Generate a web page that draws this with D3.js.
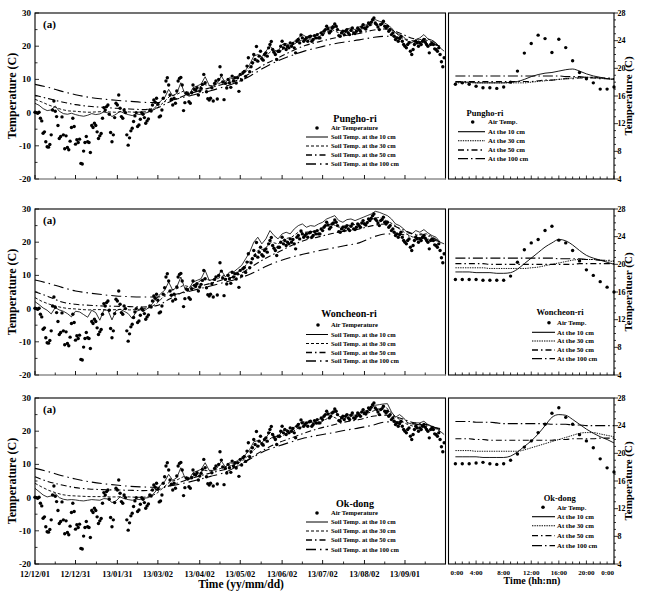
<!DOCTYPE html>
<html><head><meta charset="utf-8">
<script src="https://cdn.jsdelivr.net/npm/d3@7"></script>
<style>body{margin:0;background:#fff}text{font-family:"Liberation Serif","Times New Roman",serif;font-weight:bold;fill:#000}</style>
</head><body><svg id="c" width="645" height="600"></svg>
<script>
// ---------------- DATA ----------------
const siteNames = ["Pungho-ri", "Woncheon-ri", "Ok-dong"];
const startDate = "12/12/01", endDate = "13/10/01";
const dateTickLabels = ["12/12/01","12/12/31","13/01/31","13/03/02","13/04/02","13/05/02","13/06/02","13/07/02","13/08/02","13/09/01"];
const hourTickLabels = ["0:00","4:00","8:00","12:00","16:00","20:00","0:00"];
const hourTickValues = [0,4,8,12,16,20,24];
const leftYTicks = [-20,-10,0,10,20,30];
const rightYTicks = [4,8,12,16,20,24,28];
const rightYTitles = ["Temperature (C)", "Temperatuer (C)", "Temperature (C)"];
const legendLeftLabels = ["Air Temperature","Soil Temp. at the 10 cm","Soil Temp. at the 30 cm","Soil Temp. at the 50 cm","Soil Temp. at the 100 cm"];
const legendRightLabels = ["Air Temp.","At the 10 cm","At the 30 cm","At the 50 cm","At the 100 cm"];

// daily air temperature (days from 12/12/01)
const airTemp = [
 0.1,0,-0.2,0.1,-1.7,-2.5,-6.2,-5.8,-8.8,-10.3,
 -10.4,-9.6,-6.7,0.8,3.5,0.4,-1.2,-3.9,-7.8,-7.2,
 -1.3,-6.7,-10.9,-7.0,-10.5,-11.2,-8.6,-4.5,-1.7,-4.2,
 -9.5,-8.2,-9.0,-8.0,-15.3,-15.5,-11.6,-9.0,-7.2,-8.8,
 -9.0,-12.0,-3.9,-4.5,-3.2,-3.9,-5.8,-7.8,-7.0,-6.3,
 -1.7,1.5,0.8,1.8,2.3,-0.5,-6.0,-8.8,-6.7,-1.5,
 2.8,2.3,5.3,1.3,-1.2,-1.7,0.8,0.0,-6.7,-9.8,
 -7.6,-5.5,-4.7,-2.7,-1.0,0.0,-4.2,-3.7,-2.0,0.0,
 -0.5,-1.5,-3.2,-2.5,-1.9,0.8,0.5,2.3,3.8,3.1,
 4.3,2.5,-1.3,-1.0,0.8,4.3,6.3,9.5,10.5,8.3,
 5.3,4.0,2.3,4.3,2.8,6.5,9.5,10.3,10.6,8.3,
 0.6,3.0,5.9,5.6,3.3,2.8,6.0,8.3,7.0,6.8,
 7.5,5.3,6.5,7.3,8.5,11.5,9.0,6.3,4.2,3.8,
 4.3,7.5,3.5,8.8,9.5,4.1,10.0,13.8,11.3,9.2,
 3.9,8.8,7.4,10.0,9.0,7.6,11.0,9.5,10.5,8.9,
 10.5,6.4,11.5,9.8,12.0,12.4,10.9,14.0,16.5,12.3,
 13.8,15.0,17.5,16.0,19.9,15.5,17.0,18.5,16.2,15.8,
 17.5,18.0,17.0,19.5,20.5,21.4,19.0,18.2,17.5,16.0,
 18.5,18.5,20.0,21.5,19.5,20.5,19.0,20.0,19.5,21.0,
 20.0,20.8,19.5,18.0,21.5,22.0,21.0,23.4,22.5,21.5,
 22.0,22.5,21.5,22.8,23.0,21.5,22.0,23.2,22.5,23.5,
 22.5,22.5,24.0,23.5,24.5,25.0,26.0,25.2,24.0,24.5,
 25.5,25.8,26.7,26.0,25.0,23.2,23.0,24.0,24.5,23.5,
 24.5,25.0,24.0,23.5,24.8,25.5,24.0,23.8,24.5,25.5,
 25.0,24.5,25.8,26.5,25.5,25.2,25.9,27.0,26.5,27.2,
 28.0,28.5,27.0,26.5,25.8,25.0,26.5,26.8,27.5,26.0,
 25.5,26.0,24.5,25.0,23.5,24.0,23.0,22.0,22.5,21.5,
 22.3,23.0,21.5,20.5,20.0,19.5,20.5,21.0,18.5,17.5,
 19.0,20.5,21.5,21.0,20.0,21.0,20.5,21.5,22.0,21.2,
 20.5,20.0,18.0,20.5,21.0,20.5,19.2,19.0,18.5,19.5,
 17.5,15.3,13.8,16.5
];

// soil temperature sampling intervals (days)
const step10 = 3, step30 = 5, step50 = 10, step100 = 10;

// Pungho-ri
const pungho10 = [
 2.8,2.2,1.2,0.6,0.8,2.0,0.4,-0.3,-0.5,-0.2,
 -0.6,-0.9,-1.1,-0.8,-0.3,-0.6,-0.4,0.2,-0.1,-1.2,
 -0.5,0.4,-0.2,-0.6,-0.9,-0.4,-0.6,-0.2,0.1,0.8,
 2.0,3.5,4.5,7.0,5.0,5.8,9.0,5.5,5.2,7.5,
 8.0,8.6,10.8,8.2,8.0,8.8,11.0,9.0,10.5,10.2,
 11.0,11.5,12.8,14.5,17.0,17.5,16.8,18.5,20.0,18.8,
 18.5,20.5,20.8,20.2,21.5,22.5,23.5,22.8,23.2,23.0,
 23.8,24.5,25.5,25.8,26.8,24.8,24.5,25.2,25.5,25.0,
 25.8,26.2,26.5,27.2,28.0,27.5,27.2,26.5,25.5,24.0,
 23.5,22.8,21.5,21.0,22.0,22.5,23.5,22.2,21.8,21.0,
 19.5,18.5
];
const pungho30 = [
 4.0,3.2,2.3,1.6,0.9,0.5,0.4,0.2,0.1,0.2,
 0.3,0.2,0.1,0.3,0.2,0.1,0.2,0.4,1.2,3.0,
 5.0,5.5,6.5,6.0,7.2,8.5,8.0,8.5,9.5,9.8,
 10.5,11.8,14.0,16.0,16.8,18.5,18.0,19.5,20.0,21.5,
 22.0,22.2,22.8,24.0,25.0,24.0,24.3,24.5,25.0,25.5,
 26.5,26.8,26.0,24.8,23.0,21.8,21.0,22.0,22.3,21.5,
 19.5
];
const pungho50 = [
 5.2,4.2,3.2,2.4,1.9,1.6,1.3,1.1,0.9,1.4,
 3.3,5.0,6.4,7.5,8.6,9.8,12.0,14.5,16.5,18.5,
 20.2,21.3,22.3,23.2,23.8,24.8,25.2,24.0,22.3,21.8,
 19.8
];
const pungho100 = [
 8.5,7.6,6.4,5.4,4.6,4.1,3.7,3.4,3.1,3.0,
 3.6,4.6,5.6,6.6,7.8,9.2,11.2,13.6,15.6,17.2,
 18.6,19.6,20.6,21.3,21.9,22.6,23.0,22.6,21.6,21.0,
 20.0
];

// Woncheon-ri
const woncheon10 = [
 2.1,1.2,0.2,-0.5,-1.6,0.3,-0.4,-0.8,-1.5,-2.5,
 -0.8,-1.0,-1.8,-2.6,-0.5,-1.2,-3.5,-0.4,-0.5,-3.4,
 -0.6,-0.2,-0.8,-1.5,-3.0,-0.8,-0.4,-0.6,0.2,1.5,
 3.0,4.5,5.5,8.0,5.5,6.5,9.5,6.0,6.0,8.0,
 8.5,9.0,11.5,8.5,8.8,9.5,11.5,9.5,11.0,11.0,
 12.0,13.0,15.0,17.0,20.0,21.5,19.5,21.0,23.5,22.0,
 21.0,22.5,23.0,22.5,24.0,25.0,25.5,24.5,25.0,24.8,
 25.5,26.0,27.0,27.5,28.0,26.5,26.0,26.8,27.0,26.5,
 27.0,27.5,28.0,28.5,29.3,29.0,28.5,28.0,27.0,25.5,
 25.0,24.0,22.8,22.5,23.5,23.0,23.8,22.8,22.0,21.5,
 20.0,19.5
];
const woncheon30 = [
 3.3,2.2,1.4,0.8,0.3,0.0,-0.1,-0.3,-0.4,-0.3,
 -0.3,-0.4,-0.3,-0.2,-0.4,-0.3,-0.1,0.3,1.5,3.5,
 5.5,6.0,7.0,6.5,7.8,9.0,8.5,9.0,10.0,10.5,
 11.0,12.5,15.0,17.5,18.0,20.0,19.5,21.0,21.5,23.0,
 23.0,23.2,23.5,25.0,25.5,24.5,25.0,25.2,25.5,26.0,
 27.0,27.5,26.5,25.5,24.0,22.5,21.5,22.5,22.5,21.5,
 19.8
];
const woncheon50 = [
 5.1,3.6,2.0,1.3,1.0,0.8,0.7,0.6,0.5,0.9,
 3.0,5.0,6.5,7.6,8.8,10.0,12.5,15.0,17.0,19.0,
 20.6,21.6,22.6,23.4,24.0,25.0,25.5,24.2,22.5,22.0,
 20.2
];
const woncheon100 = [
 8.6,7.6,6.4,5.3,4.7,4.2,3.8,3.6,3.5,3.5,
 4.0,4.8,5.8,6.8,7.9,9.0,10.5,12.5,14.2,15.5,
 16.5,17.4,18.2,19.0,19.8,21.5,22.5,22.4,21.6,21.0,
 20.2
];

// Ok-dong
const okdong10 = [
 2.8,1.8,0.8,0.2,0.5,1.2,0.0,-0.5,-0.7,-0.6,
 -0.7,-0.9,-1.0,-0.8,-0.6,-0.7,-0.8,-0.3,-0.4,-1.5,
 -1.0,0.2,-0.3,-0.6,-0.8,-0.5,-0.6,-0.2,0.0,0.8,
 2.2,3.8,4.8,7.0,5.2,6.0,9.0,6.0,5.5,7.5,
 8.0,8.5,10.5,8.2,8.2,9.0,11.0,9.2,10.5,10.3,
 11.2,11.8,13.0,14.5,16.8,17.2,16.5,18.0,19.8,18.5,
 18.3,20.0,20.5,20.0,21.2,22.0,23.0,22.5,22.8,22.5,
 23.5,24.0,25.0,25.5,26.2,24.5,24.2,24.8,25.0,24.8,
 25.5,26.0,26.2,27.0,27.8,28.0,28.2,28.3,25.8,24.2,
 25.0,24.0,22.5,22.2,22.5,22.5,23.0,22.0,21.5,21.0,
 20.0,19.0
];
const okdong30 = [
 4.3,3.2,2.2,1.5,0.9,0.6,0.5,0.4,0.3,0.3,
 0.3,0.2,0.2,0.3,0.2,0.1,0.1,0.3,1.2,3.0,
 4.8,5.3,6.3,6.0,7.0,8.2,8.0,8.4,9.2,9.6,
 10.3,11.5,13.5,15.5,16.3,18.0,17.8,19.0,19.6,21.0,
 21.5,21.8,22.3,23.5,24.5,23.5,23.8,24.0,24.6,25.2,
 26.0,26.8,27.2,25.0,23.5,22.2,21.5,22.0,22.0,21.2,
 19.8
];
const okdong50 = [
 6.3,4.8,3.8,3.0,2.6,2.4,2.3,2.2,2.1,2.4,
 3.6,5.0,6.3,7.4,8.4,9.5,12.0,14.5,16.5,18.0,
 19.5,20.8,21.8,22.8,23.5,24.5,24.8,24.0,22.6,22.0,
 20.5
];
const okdong100 = [
 8.8,7.8,6.6,5.6,4.8,4.2,3.8,3.4,3.2,3.1,
 3.5,4.3,5.3,6.4,7.5,9.5,11.8,14.0,15.5,16.8,
 18.0,18.8,19.5,20.3,21.0,21.8,22.8,22.8,22.2,21.6,
 20.8
];

// diurnal (hours 1..24)
const hours = [1,2,3,4,5,6,7,8,9,10,11,12,13,14,15,16,17,18,19,20,21,22,23,24];
const punghoHourAir = [17.7,17.9,17.7,17.4,17.2,17.2,17.1,17.3,18.0,19.6,22.2,23.6,24.8,24.3,22.3,24.2,23.0,21.1,19.4,18.5,17.9,17.0,17.0,17.3];
const punghoHour10  = [18.0,18.0,18.0,17.9,17.9,17.9,17.9,17.9,18.0,18.1,18.4,18.8,19.1,19.3,19.4,19.6,19.8,19.9,19.6,19.2,18.9,18.7,18.5,18.4];
const punghoHour30  = [17.9,17.9,17.9,17.9,17.9,17.9,17.9,17.9,17.9,17.9,17.9,18.0,18.1,18.2,18.3,18.4,18.5,18.6,18.7,18.7,18.7,18.6,18.5,18.4];
const punghoHour50  = [18.1,18.1,18.1,18.1,18.1,18.1,18.1,18.1,18.1,18.1,18.1,18.1,18.2,18.3,18.3,18.4,18.5,18.5,18.6,18.6,18.6,18.5,18.5,18.5];
const punghoHour100 = [18.9,18.9,18.9,18.9,18.9,18.9,18.9,18.9,18.9,18.9,18.9,18.9,18.9,18.9,18.9,18.9,18.8,18.8,18.8,18.7,18.7,18.6,18.6,18.5];

const woncheonHourAir = [17.8,17.8,17.8,17.8,17.7,17.7,17.7,17.7,18.3,20.3,22.1,23.1,23.6,24.9,25.5,23.5,23.1,22.0,20.5,19.2,18.4,17.5,16.7,16.0];
const woncheonHour10  = [18.9,18.9,18.9,18.8,18.8,18.8,18.7,18.7,18.8,19.3,20.1,20.9,21.7,22.5,23.1,23.6,23.4,22.8,22.0,21.3,20.9,20.6,20.3,20.0];
const woncheonHour30  = [19.5,19.5,19.5,19.5,19.5,19.4,19.4,19.4,19.4,19.4,19.4,19.5,19.6,19.8,20.0,20.2,20.4,20.6,20.7,20.7,20.7,20.6,20.5,20.4];
const woncheonHour50  = [20.1,20.1,20.1,20.1,20.1,20.0,20.0,20.0,20.0,20.0,20.0,20.0,20.0,20.0,20.0,20.0,20.0,20.0,20.1,20.1,20.1,20.1,20.1,20.1];
const woncheonHour100 = [20.9,20.9,20.9,20.9,20.9,20.9,20.9,20.9,20.9,20.9,20.9,20.9,20.9,20.9,20.9,20.8,20.8,20.8,20.8,20.7,20.7,20.6,20.6,20.5];

const okdongHourAir = [18.5,18.5,18.5,18.6,18.7,18.5,18.4,18.5,19.0,19.9,20.9,21.8,23.0,24.2,25.8,26.6,25.2,24.2,22.7,21.8,20.8,19.2,17.9,17.3];
const okdongHour10  = [19.5,19.5,19.5,19.5,19.4,19.4,19.4,19.4,19.6,20.2,21.0,21.8,22.8,24.0,25.2,25.6,25.5,24.9,24.2,23.5,22.9,22.4,22.0,21.5];
const okdongHour30  = [20.4,20.4,20.4,20.3,20.3,20.3,20.3,20.3,20.3,20.3,20.5,20.8,21.1,21.4,21.7,22.0,22.3,22.6,22.9,23.0,23.0,22.8,22.6,22.4];
const okdongHour50  = [22.1,22.1,22.1,22.0,22.0,21.9,21.9,21.9,21.9,21.9,21.9,21.9,21.9,21.9,21.9,22.0,22.0,22.1,22.1,22.1,22.1,22.2,22.2,22.2];
const okdongHour100 = [24.6,24.6,24.6,24.5,24.5,24.5,24.4,24.3,24.3,24.3,24.3,24.3,24.3,24.3,24.2,24.2,24.2,24.1,24.1,24.0,24.0,24.0,24.0,24.0];

// ---------------- BUILD ----------------
const sites = [
  {name: siteNames[0], s:[pungho10,pungho30,pungho50,pungho100], h:[punghoHourAir,punghoHour10,punghoHour30,punghoHour50,punghoHour100]},
  {name: siteNames[1], s:[woncheon10,woncheon30,woncheon50,woncheon100], h:[woncheonHourAir,woncheonHour10,woncheonHour30,woncheonHour50,woncheonHour100]},
  {name: siteNames[2], s:[okdong10,okdong30,okdong50,okdong100], h:[okdongHourAir,okdongHour10,okdongHour30,okdongHour50,okdongHour100]}
];
const steps = [step10, step30, step50, step100];

const parse = d3.utcParse("%y/%m/%d");
const d0 = parse(startDate), d1 = parse(endDate);
const dayDate = d => d3.utcDay.offset(d0, d);

const svg = d3.select("#c");
svg.append("rect").attr("width",645).attr("height",600).attr("fill","#fff");

const L0 = 35, L1 = 445.5, R0 = 448.5, R1 = 614, PH = 166;
const tops = [13, 209, 398];
const x = d3.scaleUtc().domain([d0, d1]).range([L0, L1]);
const xh = d3.scaleLinear().domain([0, 24]).range([R0, R1]);

const leftStyles = [
  {dash:null, w:0.8},
  {dash:"3,2", w:0.9},
  {dash:"6,3,1.5,3", w:1.1},
  {dash:"10,4,1.5,4", w:1.1}
];
const rightStyles = [
  {dash:null, w:0.9},
  {dash:"1.4,1", w:0.9},
  {dash:"6,3,1.5,3", w:1.1},
  {dash:"10,3,1.5,3", w:1.1}
];

const majorDates = dateTickLabels.map(parse);
const minorDates = [];
for (let i = 0; i < majorDates.length; i++) {
  const a = majorDates[i], b = i + 1 < majorDates.length ? majorDates[i+1] : d3.utcDay.offset(a, 30);
  minorDates.push(new Date((+a + +b) / 2));
}

const leftLeg = [
  {tx:355, ty:118, mx:317, rows:[128,137,146,155,164]},
  {tx:349, ty:313, mx:318, rows:[325,334.5,343.5,352.5,361]},
  {tx:355, ty:503, mx:317, rows:[513,522,531,540,549.5]}
];
const rightLeg = [
  {tx:485, ty:112.7, mx:472.7, l0:458, l1:485, tx2:488, rows:[122,131.7,140.7,150,158.7]},
  {tx:560, ty:311.7, mx:549, l0:532, l1:555, tx2:557, rows:[322.7,332.3,341,350,358.7]},
  {tx:559.7, ty:498, mx:543, l0:532, l1:555, tx2:557, rows:[507.3,516.7,525.7,535.7,545.7]}
];

sites.forEach((s, i) => {
  const top = tops[i], bot = top + PH;
  const y = d3.scaleLinear().domain([-20, 30]).range([bot, top]);
  const yr = d3.scaleLinear().domain([4, 28]).range([bot, top]);
  const g = svg.append("g");

  // ---- left panel soil lines
  s.s.forEach((arr, k) => {
    const pts = arr.map((v, j) => [dayDate(j * steps[k]), v]);
    const line = d3.line().x(d => x(d[0])).y(d => y(d[1]))
      .curve(k >= 2 ? d3.curveMonotoneX : d3.curveLinear);
    g.append("path").attr("d", line(pts)).attr("fill","none").attr("stroke","#000")
      .attr("stroke-width", leftStyles[k].w).attr("stroke-dasharray", leftStyles[k].dash);
  });
  // air dots
  g.selectAll(null).data(airTemp).enter().append("circle")
    .attr("cx", (v, j) => x(dayDate(j))).attr("cy", v => y(v)).attr("r", 1.7).attr("fill","#000");

  // ---- right panel lines
  s.h.slice(1).forEach((arr, k) => {
    const line = d3.line().x((v, j) => xh(hours[j])).y(v => yr(v)).curve(d3.curveMonotoneX);
    g.append("path").attr("d", line(arr)).attr("fill","none").attr("stroke","#000")
      .attr("stroke-width", rightStyles[k].w).attr("stroke-dasharray", rightStyles[k].dash);
  });
  g.selectAll(null).data(s.h[0]).enter().append("circle")
    .attr("cx", (v, j) => xh(hours[j])).attr("cy", v => yr(v)).attr("r", 1.7).attr("fill","#000");

  // ---- frames
  g.append("rect").attr("x", L0).attr("y", top).attr("width", L1 - L0).attr("height", PH)
    .attr("fill","none").attr("stroke","#000").attr("stroke-width",1.1);
  if (i < 2) g.append("line").attr("x1", L0).attr("x2", L1).attr("y1", bot).attr("y2", bot)
    .attr("stroke","#aaa").attr("stroke-width",1.8);
  g.append("rect").attr("x", R0).attr("y", top).attr("width", R1 - R0).attr("height", PH)
    .attr("fill","none").attr("stroke","#000").attr("stroke-width",1.1);

  // ---- left y ticks
  d3.range(-20, 31, 5).forEach(v => {
    const len = v % 10 === 0 ? 4 : 2.5;
    g.append("line").attr("x1", L0).attr("x2", L0 + len).attr("y1", y(v)).attr("y2", y(v)).attr("stroke","#000").attr("stroke-width",0.8);
  });
  leftYTicks.forEach(v => g.append("text").attr("x", 31).attr("y", y(v) + 3).attr("text-anchor","end")
    .attr("font-size", 9).text(v));
  // bottom date ticks
  majorDates.forEach(d => g.append("line").attr("x1", x(d)).attr("x2", x(d)).attr("y1", bot).attr("y2", bot - 4).attr("stroke","#000").attr("stroke-width",0.9));
  minorDates.forEach(d => g.append("line").attr("x1", x(d)).attr("x2", x(d)).attr("y1", bot).attr("y2", bot - 2.5).attr("stroke","#000").attr("stroke-width",0.8));

  // ---- right y ticks (outside, right)
  d3.range(4, 29, 1).forEach(v => {
    const len = v % 4 === 0 ? 4 : 2;
    g.append("line").attr("x1", R1).attr("x2", R1 + len).attr("y1", yr(v)).attr("y2", yr(v)).attr("stroke","#000").attr("stroke-width",0.8);
  });
  rightYTicks.forEach(v => g.append("text").attr("x", R1 + 3.5).attr("y", yr(v) + 2.8).attr("font-size", 8).text(v));
  d3.range(0, 25, 1).forEach(h => {
    const len = h % 4 === 0 ? 3.5 : 2.5;
    g.append("line").attr("x1", xh(h)).attr("x2", xh(h)).attr("y1", bot).attr("y2", bot - len).attr("stroke","#000").attr("stroke-width",0.8);
  });

  // ---- titles
  g.append("text").attr("transform", `translate(16,${top + 83}) rotate(-90)`).attr("text-anchor","middle")
    .attr("font-size", 12).text("Temperature (C)");
  g.append("text").attr("transform", `translate(632,${top + 83}) rotate(-90)`).attr("text-anchor","middle")
    .attr("font-size", 11).text(rightYTitles[i]);
  g.append("text").attr("x", 43).attr("y", top + 15).attr("font-size", 11).text("(a)");

  // ---- left legend
  const ll = leftLeg[i];
  g.append("text").attr("x", ll.tx).attr("y", ll.ty + 3.5).attr("text-anchor","middle").attr("font-size", 10).text(s.name);
  g.append("circle").attr("cx", ll.mx).attr("cy", ll.rows[0]).attr("r", 1.8).attr("fill","#000");
  ll.rows.forEach((ry, k) => {
    if (k > 0) g.append("line").attr("x1", 306).attr("x2", 328).attr("y1", ry).attr("y2", ry).attr("stroke","#000")
      .attr("stroke-width", leftStyles[k-1].w + 0.2).attr("stroke-dasharray", leftStyles[k-1].dash);
    g.append("text").attr("x", 331).attr("y", ry + 2.2).attr("font-size", 6.5).text(legendLeftLabels[k]);
  });

  // ---- right legend
  const rl = rightLeg[i];
  g.append("text").attr("x", rl.tx).attr("y", rl.ty + 3).attr("text-anchor","middle").attr("font-size", 8.5).text(s.name);
  g.append("circle").attr("cx", rl.mx).attr("cy", rl.rows[0]).attr("r", 1.8).attr("fill","#000");
  rl.rows.forEach((ry, k) => {
    if (k > 0) g.append("line").attr("x1", rl.l0).attr("x2", rl.l1).attr("y1", ry).attr("y2", ry).attr("stroke","#000")
      .attr("stroke-width", rightStyles[k-1].w + 0.2).attr("stroke-dasharray", rightStyles[k-1].dash);
    g.append("text").attr("x", rl.tx2).attr("y", ry + 2.3).attr("font-size", 6.8).text(legendRightLabels[k]);
  });

  // ---- bottom labels (last row only)
  if (i === 2) {
    majorDates.forEach((d, k) => g.append("text").attr("x", x(d)).attr("y", bot + 13).attr("text-anchor","middle")
      .attr("font-size", 8.5).text(dateTickLabels[k]));
    g.append("text").attr("x", 241).attr("y", bot + 24).attr("text-anchor","middle").attr("font-size", 11.5).text("Time (yy/mm/dd)");
    hourTickValues.forEach((h, k) => {
      const anchor = k === 0 ? "start" : (k === hourTickValues.length - 1 ? "end" : "middle");
      g.append("text").attr("x", xh(h) + (k === 0 ? 2 : 0)).attr("y", bot + 10.5).attr("text-anchor", anchor)
        .attr("font-size", 7).text(hourTickLabels[k]);
    });
    g.append("text").attr("x", 532).attr("y", bot + 20).attr("text-anchor","middle").attr("font-size", 10).text("Time (hh:nn)");
  }
});
</script></body></html>
